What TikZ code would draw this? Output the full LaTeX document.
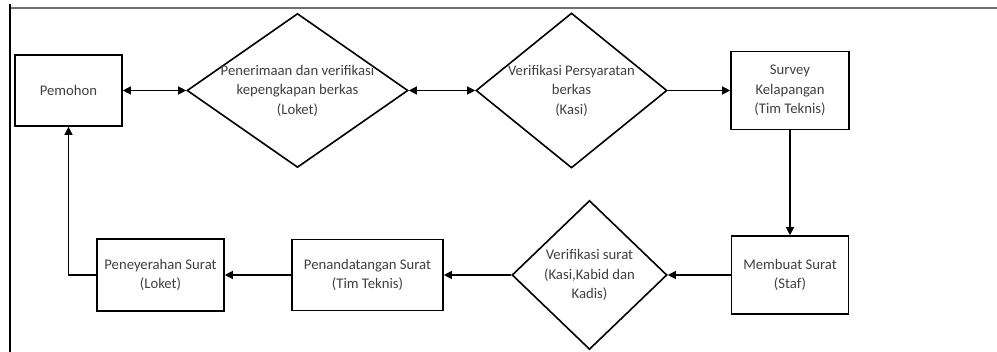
\documentclass[tikz,border=0pt]{standalone}
\usepackage{fontspec}
\setmainfont{Carlito}
\usetikzlibrary{shapes.geometric,arrows.meta}
\definecolor{teksabu}{RGB}{62,62,70}
\definecolor{bingkai}{RGB}{110,110,110}
\begin{document}
\begin{tikzpicture}[x=1pt,y=-1pt,
        kotak/.style={draw,rectangle,line width=1.6pt,inner sep=0pt},
        keputusan/.style={draw,diamond,line width=1.6pt,inner sep=0pt},
        isi/.style={align=center,text=teksabu,font=\fontsize{14.7}{19.5}\selectfont},
        panah/.style={line width=1.2pt,-{Triangle[length=8pt,width=8pt]}},
        panahdua/.style={line width=1.2pt,{Triangle[length=8pt,width=8pt]}-{Triangle[length=8pt,width=8pt]}}]
        \useasboundingbox (0,0) rectangle (997,352);
        \draw[bingkai,line width=1.6pt] (10,8) -- (997,8);
        \draw[line width=2.2pt] (10,4) -- (10,352);

        \node[kotak,isi,minimum width=107pt,minimum height=71pt] (pemohon) at (68.5,90.5) {Pemohon};
        \node[keputusan,minimum width=221pt,minimum height=154pt,
            label={[isi]center:{Penerimaan dan verifikasi\\kepengkapan berkas\\(Loket)}}] (terima) at (297.5,90.5) {};
        \node[keputusan,minimum width=191pt,minimum height=155pt,
            label={[isi]center:{Verifikasi Persyaratan\\berkas\\(Kasi)}}] (syarat) at (571.5,90.5) {};
        \node[kotak,isi,minimum width=118pt,minimum height=78pt] (survey) at (790,90.5) {Survey\\Kelapangan\\(Tim Teknis)};

        \node[kotak,isi,minimum width=117pt,minimum height=78pt] (membuat) at (790,275) {Membuat Surat\\(Staf)};
        \node[keputusan,minimum width=155pt,minimum height=149pt,
            label={[isi]center:{Verifikasi surat\\(Kasi,Kabid dan\\Kadis)}}] (vsurat) at (589.5,275) {};
        \node[kotak,isi,minimum width=151pt,minimum height=71pt] (tanda) at (367.5,275) {Penandatangan Surat\\(Tim Teknis)};
        \node[kotak,isi,minimum width=127pt,minimum height=72pt] (serah) at (160.5,275) {Peneyerahan Surat\\(Loket)};

        \draw[panahdua] (pemohon) -- (terima);
        \draw[panahdua] (terima) -- (syarat);
        \draw[panah] (syarat) -- (survey);
        \draw[panah] (survey) -- (membuat);
        \draw[panah] (membuat) -- (vsurat);
        \draw[panah] (vsurat) -- (tanda);
        \draw[panah] (tanda) -- (serah);
        \draw[panah] (serah.west) -| (pemohon.south);
\end{tikzpicture}
\end{document}
